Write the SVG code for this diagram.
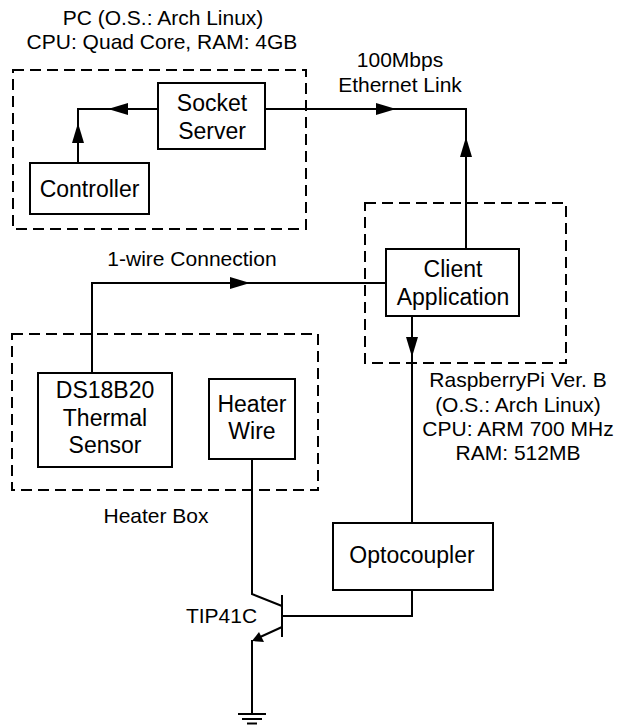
<svg xmlns="http://www.w3.org/2000/svg" width="618" height="725" viewBox="0 0 618 725">
<style>
.bg{fill:#fff}
.box{fill:#fff;stroke:#000;stroke-width:2}
.dash{fill:none;stroke:#000;stroke-width:2;stroke-dasharray:11 6}
.wire{fill:none;stroke:#000;stroke-width:2}
.ah{fill:#000;stroke:none}
.t{font-family:"Liberation Sans",Arial,sans-serif;fill:#000;text-anchor:middle}
.n{font-size:23px}
.l{font-size:21px}
</style>
<rect class="bg" x="0" y="0" width="618" height="725"/>
<g id="groups">
<rect id="pc-box" class="dash" x="13" y="70" width="293" height="159"/>
<rect id="pi-box" class="dash" x="365" y="203" width="201" height="160"/>
<rect id="heater-box" class="dash" x="12" y="334" width="306" height="156"/>
</g>
<g id="connectors">
<polyline class="wire" points="158,109 78,109 78,163"/>
<polygon class="ah" points="108,109 128,103 128,115"/>
<polygon class="ah" points="78,123 72,143 84,143"/>
<polyline class="wire" points="265,109 466,109 466,249"/>
<polygon class="ah" points="396,109 376,103 376,115"/>
<polygon class="ah" points="466,137 460,157 472,157"/>
<polyline class="wire" points="92,373 92,283 386,283"/>
<polygon class="ah" points="250,283 230,277 230,289"/>
<line class="wire" x1="412" y1="316" x2="412" y2="523"/>
<polygon class="ah" points="412,357 406,337 418,337"/>
<polyline class="wire" points="412,590 412,616 282,616"/>
<polyline class="wire" points="252,459 252,594 282,606"/>
<line class="wire" x1="282" y1="595" x2="282" y2="637"/>
<line class="wire" x1="282" y1="627" x2="258" y2="638"/>
<polygon class="ah" points="252,641 259,632 264,642"/>
<line class="wire" x1="252" y1="640" x2="252" y2="714"/>
<line class="wire" x1="238" y1="714" x2="266" y2="714"/>
<line class="wire" x1="242" y1="719" x2="262" y2="719"/>
<line class="wire" x1="247" y1="723.5" x2="257" y2="723.5"/>
</g>
<g id="socket-server">
<rect class="box" x="158" y="83" width="107" height="66"/>
<text class="t n" x="212" y="111">Socket</text>
<text class="t n" x="212" y="139">Server</text>
</g>
<g id="controller">
<rect class="box" x="30" y="163" width="119" height="51"/>
<text class="t n" x="89.5" y="197">Controller</text>
</g>
<g id="client-application">
<rect class="box" x="386" y="249" width="133" height="67"/>
<text class="t n" x="453" y="277">Client</text>
<text class="t n" x="453" y="305">Application</text>
</g>
<g id="ds18b20">
<rect class="box" x="38" y="373" width="134" height="94"/>
<text class="t n" x="105" y="398">DS18B20</text>
<text class="t n" x="105" y="426">Thermal</text>
<text class="t n" x="105" y="453">Sensor</text>
</g>
<g id="heater-wire">
<rect class="box" x="209" y="379" width="86" height="80"/>
<text class="t n" x="252" y="412">Heater</text>
<text class="t n" x="252" y="439">Wire</text>
</g>
<g id="optocoupler">
<rect class="box" x="333" y="523" width="160" height="67"/>
<text class="t n" x="412" y="563">Optocoupler</text>
</g>
<g id="labels">
<text class="t l" x="163" y="25">PC (O.S.: Arch Linux)</text>
<text class="t l" x="162" y="49">CPU: Quad Core, RAM: 4GB</text>
<text class="t l" x="400" y="67">100Mbps</text>
<text class="t l" x="400" y="92">Ethernet Link</text>
<text class="t l" x="192" y="266">1-wire Connection</text>
<text class="t l" x="518" y="387">RaspberryPi Ver. B</text>
<text class="t l" x="518" y="412">(O.S.: Arch Linux)</text>
<text class="t l" x="518" y="436">CPU: ARM 700 MHz</text>
<text class="t l" x="518" y="460">RAM: 512MB</text>
<text class="t l" x="156" y="523">Heater Box</text>
<text class="t l" x="221.5" y="623">TIP41C</text>
</g>
</svg>
